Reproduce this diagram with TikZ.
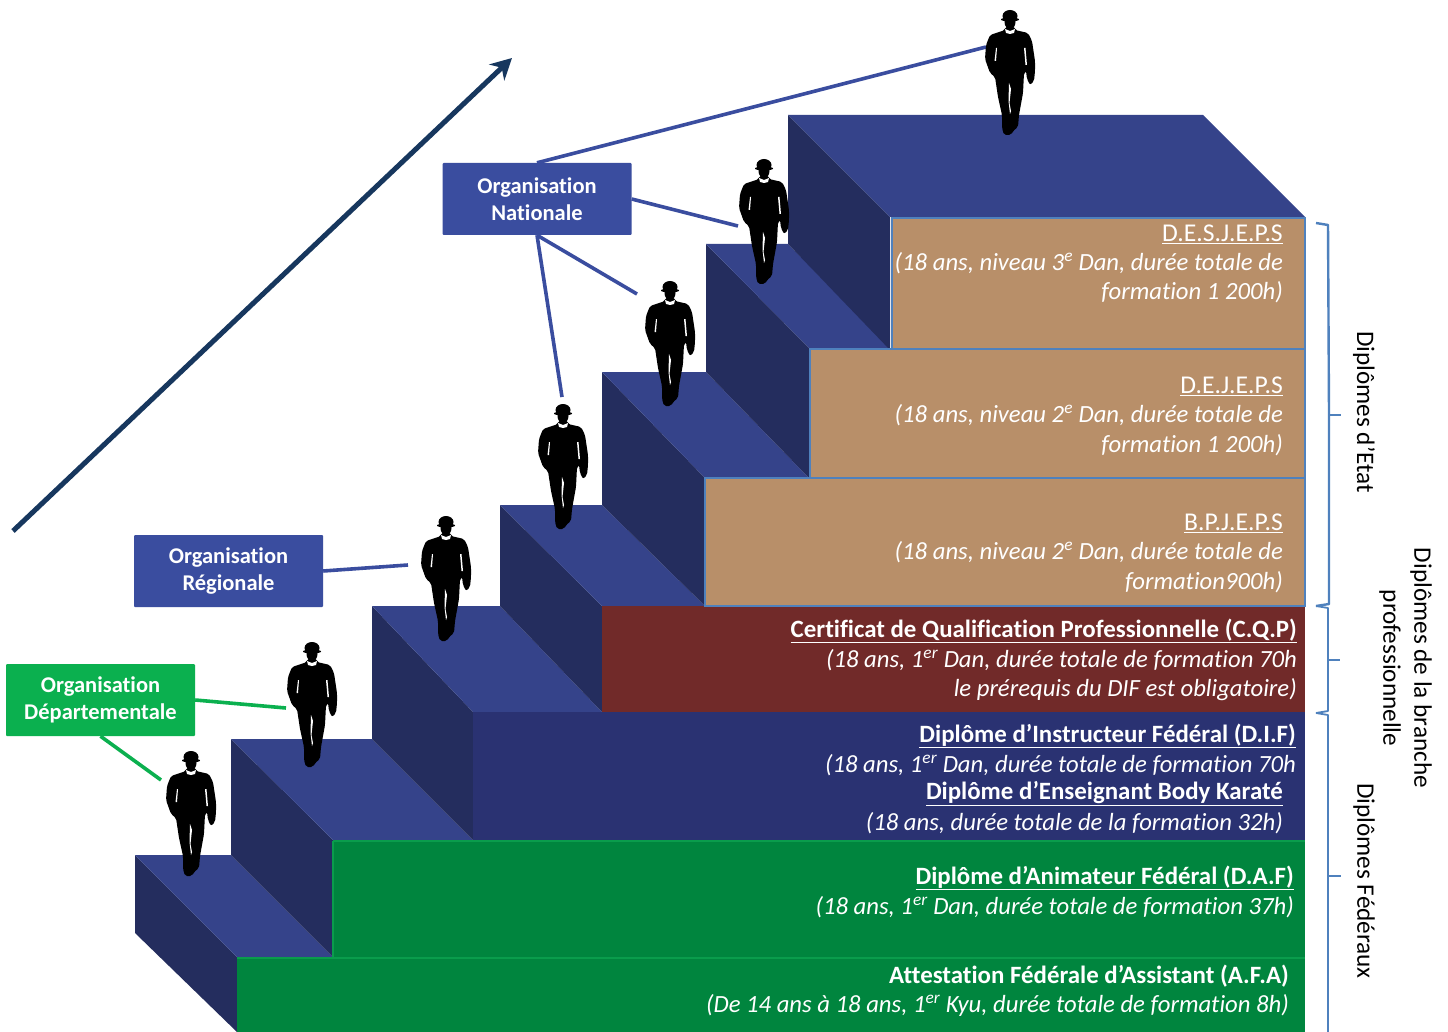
\documentclass[tikz,border=0pt]{standalone}
\usepackage{fontspec}
\setmainfont[Ligatures=CommonOff]{Carlito}
\usetikzlibrary{arrows.meta}
\definecolor{topface}{HTML}{35438A}
\definecolor{sideface}{HTML}{242D5E}
\definecolor{frontblue}{HTML}{2A3272}
\definecolor{tanface}{HTML}{B88F69}
\definecolor{redface}{HTML}{712A29}
\definecolor{greenface}{HTML}{00853E}
\definecolor{greenedge}{HTML}{0A9C4C}
\definecolor{greenbox}{HTML}{0BB04F}
\definecolor{bluebox}{HTML}{3A4D9F}
\definecolor{edgeblue}{HTML}{4F81BD}
\definecolor{arrownavy}{HTML}{17375E}
\tikzset{
  x=1pt,y=-1pt,
  top/.style={fill=topface,draw=none},
  side/.style={fill=sideface,draw=none},
  tanfront/.style={fill=tanface,draw=edgeblue,line width=1.2pt},
  orgbox/.style={rounded corners=1pt,minimum width=189pt,minimum height=72pt,text=white,align=center,font=\fontsize{22.5}{27}\selectfont\bfseries,inner sep=0pt},
  heading/.style={anchor=east,text=white,inner sep=0pt,font=\fontsize{24.9}{28}\selectfont\bfseries},
  plainhead/.style={anchor=east,text=white,inner sep=0pt,font=\fontsize{25.6}{28}\selectfont},
  detail/.style={anchor=east,text=white,inner sep=0pt,font=\fontsize{24.7}{28}\selectfont\itshape},
  sidelabel/.style={rotate=-90,inner sep=0pt,text=black,font=\fontsize{25.2}{28}\selectfont},
  bluelink/.style={draw=bluebox,line width=3.6pt},
  greenlink/.style={draw=greenbox,line width=3.6pt},
  brace/.style={draw=edgeblue,line width=2.4pt,line join=round},
  man/.pic={
    \fill[black] (0,5) ellipse [x radius=7.5,y radius=6];
    \fill[black] (0,8.5) ellipse [x radius=9,y radius=2];
    \fill[black] (0,11) ellipse [x radius=5.5,y radius=7];
    \fill[black,rounded corners=2pt]
      (-4,15) -- (4,15) -- (5,19) -- (18,22) -- (22,30) -- (25,50)
      -- (25,60) -- (24,70) -- (20,74) -- (17,68) -- (16,60) -- (14,62) -- (13,82) -- (9,104) -- (8,116)
      -- (3,120) -- (1,124) -- (-6,124) -- (-8,117) -- (-8,104) -- (-12,86) -- (-15,66) -- (-20,62)
      -- (-25,48) -- (-24,34) -- (-20,24) -- (-5,19) -- cycle;
    \fill[white] (-5,18) -- (0,20) -- (5,18) -- (4,22) -- (0,23) -- (-4,22) -- cycle;
    \fill[white] (-14,37) -- (-13,37) -- (-14,50) -- (-15.5,50) -- cycle;
    \fill[white] (14,37) -- (15.5,37) -- (17,54) -- (15.5,54) -- cycle;
    \fill[white] (-1,72) -- (1,78) -- (-0.5,92) -- (1,100) -- (0,103) -- (-1.5,90) -- cycle;
  }
}
\begin{document}
\begin{tikzpicture}
\useasboundingbox (0,0) rectangle (1448,1032);
\fill[white] (0,0) rectangle (1448,1032);

% step sides and tops
\fill[side] (135,855) -- (237,957) -- (237,1032) -- (135,933) -- cycle;
\fill[top]  (135,855) -- (231,855) -- (333,957) -- (237,957) -- cycle;
\fill[side] (231,739) -- (333,840) -- (333,957) -- (231,855) -- cycle;
\fill[top]  (231,739) -- (372,739) -- (473,840) -- (333,840) -- cycle;
\fill[side] (372,606) -- (473,712) -- (473,840) -- (372,739) -- cycle;
\fill[top]  (372,606) -- (500,606) -- (602,712) -- (473,712) -- cycle;
\fill[side] (500,505) -- (602,606) -- (602,712) -- (500,606) -- cycle;
\fill[top]  (500,505) -- (602,505) -- (705,606) -- (602,606) -- cycle;
\fill[side] (602,372) -- (705,478) -- (705,606) -- (602,505) -- cycle;
\fill[top]  (602,372) -- (706,372) -- (809,478) -- (705,478) -- cycle;
\fill[side] (706,244) -- (809,348) -- (809,478) -- (706,372) -- cycle;
\fill[top]  (706,244) -- (788,244) -- (890,348) -- (809,348) -- cycle;
\fill[side] (788,115) -- (890,217) -- (890,350) -- (788,244) -- cycle;
\fill[top]  (788,115) -- (1203,115) -- (1305,217) -- (890,217) -- cycle;

% fronts
\fill[greenface] (237,957) rectangle (1305,1032);
\fill[greenface] (333,840) rectangle (1305,957);
\draw[greenedge,line width=2pt] (333,841) -- (1305,841);
\draw[greenedge,line width=2pt] (333,841) -- (333,957);
\draw[greenedge,line width=2pt] (237,958) -- (1305,958);
\fill[frontblue] (473,712) rectangle (1305,840);
\fill[redface] (602,606) rectangle (1305,712);
\draw[tanfront] (705,478) rectangle (1305,606);
\draw[tanfront] (810,349) rectangle (1305,478);
\draw[tanfront] (892,218) rectangle (1305,349);

% arrow
\coordinate (arrowstart) at (13,531);
\coordinate (arrowend) at (512,58);
\draw[arrownavy,line width=5pt,-{Stealth[length=21pt,width=22pt]}] (arrowstart) -- (arrowend);

% organisation boxes
\node[orgbox,fill=bluebox] (nat) at (537,199) {Organisation\\Nationale};
\node[orgbox,fill=bluebox] (reg) at (228.5,571) {Organisation\\Régionale};
\node[orgbox,fill=greenbox] (dep) at (100.5,700) {Organisation\\Départementale};

% connector ends
\coordinate (m7) at (986,47);
\coordinate (m6) at (738,226);
\coordinate (m5) at (637,294);
\coordinate (m4) at (562,397);
\coordinate (m3) at (408,565);
\coordinate (m2) at (286,708);
\coordinate (m1) at (161,780);
\draw[bluelink] (nat.north) -- (m7);
\draw[bluelink] (nat.east) -- (m6);
\draw[bluelink] (nat.south) -- (m5);
\draw[bluelink] (nat.south) -- (m4);
\draw[bluelink] (reg.east) -- (m3);
\draw[greenlink] (dep.east) -- (m2);
\draw[greenlink] (dep.south) -- (m1);

% men
\pic at (191,752) {man};
\pic at (312,643) {man};
\pic at (446,517) {man};
\pic at (563,405) {man};
\pic at (670,282) {man};
\pic at (764,160) {man};
\pic at (1010,11) {man};

% texts
\node[plainhead] (t1a) at (1283,234) {\underline{D.E.S.J.E.P.S}};
\node[detail] (t1b) at (1283,263) {(18 ans, niveau 3\textsuperscript{e} Dan, durée totale de};
\node[detail] (t1c) at (1283,292) {formation 1 200h)};
\node[plainhead] (t2a) at (1283,386) {\underline{D.E.J.E.P.S}};
\node[detail] (t2b) at (1283,415) {(18 ans, niveau 2\textsuperscript{e} Dan, durée totale de};
\node[detail] (t2c) at (1283,445) {formation 1 200h)};
\node[plainhead] (t3a) at (1283,523) {\underline{B.P.J.E.P.S}};
\node[detail] (t3b) at (1283,552) {(18 ans, niveau 2\textsuperscript{e} Dan, durée totale de};
\node[detail] (t3c) at (1283,582) {formation900h)};
\node[heading] (t4a) at (1297,631) {\underline{Certificat de Qualification Professionnelle (C.Q.P)}};
\node[detail] (t4b) at (1297,660) {(18 ans, 1\textsuperscript{er} Dan, durée totale de formation 70h};
\node[detail] (t4c) at (1297,690) {le prérequis du DIF est obligatoire)};
\node[heading] (t5a) at (1296,736) {\underline{Diplôme d’Instructeur Fédéral (D.I.F)}};
\node[detail] (t5b) at (1296,765) {(18 ans, 1\textsuperscript{er} Dan, durée totale de formation 70h};
\node[heading] (t5c) at (1283,794) {\underline{Diplôme d’Enseignant Body Karaté}};
\node[detail] (t5d) at (1283,823) {(18 ans, durée totale de la formation 32h)};
\node[heading] (t6a) at (1294,878) {\underline{Diplôme d’Animateur Fédéral (D.A.F)}};
\node[detail] (t6b) at (1294,907) {(18 ans, 1\textsuperscript{er} Dan, durée totale de formation 37h)};
\node[heading] (t7a) at (1289,976) {Attestation Fédérale d’Assistant (A.F.A)};
\node[detail] (t7b) at (1289,1005) {(De 14 ans à 18 ans, 1\textsuperscript{er} Kyu, durée totale de formation 8h)};

% braces
\draw[brace] (1316,223) -- (1328,225) -- (1329,415) -- (1329,604) -- (1316,606);
\draw[brace] (1329,415) -- (1341,415);
\draw[brace,line width=1.8pt] (1316,606) -- (1328,608) -- (1328,711) -- (1316,713);
\draw[brace,line width=1.8pt] (1328,660) -- (1340,660);
\draw[brace,line width=1.8pt] (1316,713) -- (1328,715) -- (1328,1032);
\draw[brace,line width=1.8pt] (1328,876) -- (1341,876);

% side labels
\node[sidelabel] (l1) at (1364,412) {Diplômes d’Etat};
\node[sidelabel] (l2) at (1421,668) {Diplômes de la branche};
\node[sidelabel] (l3) at (1390,668) {professionnelle};
\node[sidelabel] (l4) at (1364,881) {Diplômes Fédéraux};
\end{tikzpicture}
\end{document}
